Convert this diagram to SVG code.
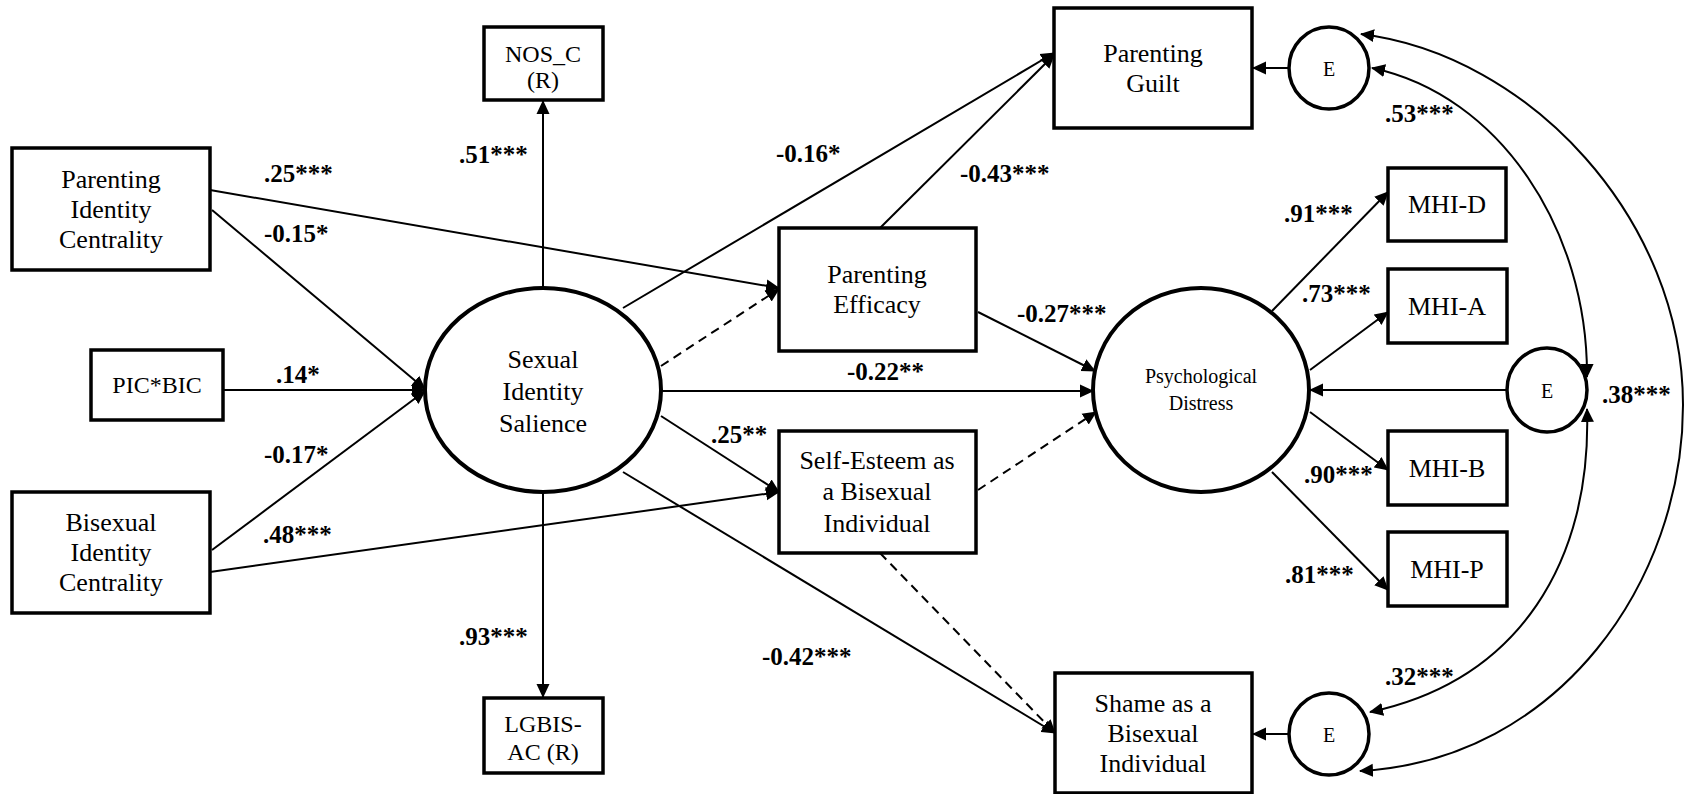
<svg xmlns="http://www.w3.org/2000/svg" width="1688" height="794" viewBox="0 0 1688 794">
<defs>
<marker id="ah" viewBox="0 0 14 14" refX="13" refY="7" markerWidth="14" markerHeight="14" markerUnits="userSpaceOnUse" orient="auto-start-reverse">
<path d="M0,0.5 L14,7 L0,13.5 z" fill="#000"/>
</marker>
<style>
.box{fill:#fff;stroke:#000;stroke-width:3.5}
.lat{fill:#fff;stroke:#000;stroke-width:4}
.err{fill:#fff;stroke:#000;stroke-width:3.5}
.t{font-family:"Liberation Serif","Times New Roman",serif;font-size:26px;text-anchor:middle;fill:#000}
.tm{font-family:"Liberation Serif","Times New Roman",serif;font-size:24px;text-anchor:middle;fill:#000}
.ts{font-family:"Liberation Serif","Times New Roman",serif;font-size:20px;text-anchor:middle;fill:#000}
.lb{font-family:"Liberation Serif","Times New Roman",serif;font-size:25px;font-weight:bold;fill:#000}
.c{fill:none;stroke:#000;stroke-width:2;marker-end:url(#ah)}
.d{fill:none;stroke:#000;stroke-width:2;stroke-dasharray:9,6;marker-end:url(#ah)}
.cc{fill:none;stroke:#000;stroke-width:2;marker-start:url(#ah);marker-end:url(#ah)}
</style>
</defs>
<rect width="1688" height="794" fill="#fff"/>
<g id="connectors">
<line class="c" x1="212" y1="210" x2="425" y2="389"/>
<line class="c" x1="223" y1="390" x2="425" y2="390"/>
<line class="c" x1="212" y1="550" x2="425" y2="391"/>
<line class="c" x1="210" y1="190" x2="779" y2="288"/>
<line class="c" x1="210" y1="572" x2="779" y2="492"/>
<line class="c" x1="543" y1="288" x2="543" y2="101"/>
<line class="c" x1="543" y1="493" x2="543" y2="697"/>
<line class="c" x1="623" y1="308" x2="1054" y2="53"/>
<line class="d" x1="661" y1="366" x2="779" y2="289"/>
<line class="c" x1="662" y1="391" x2="1093" y2="391"/>
<line class="c" x1="661" y1="416" x2="779" y2="492"/>
<line class="c" x1="623" y1="472" x2="1055" y2="733"/>
<line class="c" x1="880" y1="228" x2="1054" y2="55"/>
<line class="c" x1="978" y1="312" x2="1095" y2="371"/>
<line class="d" x1="978" y1="490" x2="1096" y2="412"/>
<line class="d" x1="880" y1="553" x2="1055" y2="733"/>
<line class="c" x1="1272" y1="311" x2="1388" y2="192"/>
<line class="c" x1="1310" y1="370" x2="1388" y2="312"/>
<line class="c" x1="1310" y1="412" x2="1388" y2="470"/>
<line class="c" x1="1272" y1="472" x2="1388" y2="590"/>
<line class="c" x1="1289" y1="68" x2="1253" y2="68"/>
<line class="c" x1="1507" y1="390" x2="1310" y2="390"/>
<line class="c" x1="1289" y1="734" x2="1253" y2="734"/>
<path class="cc" d="M1361,34 C1530,55 1683,220 1683,405 C1683,580 1560,760 1360,771"/>
<path class="cc" d="M1372,68 C1500,95 1588,230 1587,377"/>
<path class="cc" d="M1587,409 C1592,560 1520,680 1370,712"/>
</g>
<g id="labels">
<text class="lb" x="264" y="182">.25***</text>
<text class="lb" x="264" y="242">-0.15*</text>
<text class="lb" x="459" y="163">.51***</text>
<text class="lb" x="276" y="383">.14*</text>
<text class="lb" x="264" y="463">-0.17*</text>
<text class="lb" x="263" y="543">.48***</text>
<text class="lb" x="459" y="645">.93***</text>
<text class="lb" x="776" y="162">-0.16*</text>
<text class="lb" x="960" y="182">-0.43***</text>
<text class="lb" x="1017" y="322">-0.27***</text>
<text class="lb" x="847" y="380">-0.22**</text>
<text class="lb" x="711" y="443">.25**</text>
<text class="lb" x="762" y="665">-0.42***</text>
<text class="lb" x="1284" y="222">.91***</text>
<text class="lb" x="1302" y="302">.73***</text>
<text class="lb" x="1304" y="483">.90***</text>
<text class="lb" x="1285" y="583">.81***</text>
<text class="lb" x="1385" y="122">.53***</text>
<text class="lb" x="1602" y="403">.38***</text>
<text class="lb" x="1385" y="685">.32***</text>
</g>
<g id="parenting-identity-centrality">
<rect class="box" x="12" y="148" width="198" height="122"/>
<text class="t" x="111" y="188">Parenting</text>
<text class="t" x="111" y="218">Identity</text>
<text class="t" x="111" y="248">Centrality</text>
</g>
<g id="pic-bic">
<rect class="box" x="91" y="350" width="132" height="70"/>
<text class="tm" x="157" y="393">PIC*BIC</text>
</g>
<g id="bisexual-identity-centrality">
<rect class="box" x="12" y="492" width="198" height="121"/>
<text class="t" x="111" y="531">Bisexual</text>
<text class="t" x="111" y="561">Identity</text>
<text class="t" x="111" y="591">Centrality</text>
</g>
<g id="nos-c">
<rect class="box" x="484" y="27" width="119" height="73"/>
<text class="tm" x="543" y="62">NOS_C</text>
<text class="tm" x="543" y="88">(R)</text>
</g>
<g id="lgbis-ac">
<rect class="box" x="484" y="698" width="119" height="75"/>
<text class="tm" x="543" y="732">LGBIS-</text>
<text class="tm" x="543" y="760">AC (R)</text>
</g>
<g id="sexual-identity-salience">
<ellipse class="lat" cx="543" cy="390" rx="118" ry="102"/>
<text class="t" x="543" y="368">Sexual</text>
<text class="t" x="543" y="400">Identity</text>
<text class="t" x="543" y="432">Salience</text>
</g>
<g id="parenting-efficacy">
<rect class="box" x="779" y="228" width="197" height="123"/>
<text class="t" x="877" y="283">Parenting</text>
<text class="t" x="877" y="313">Efficacy</text>
</g>
<g id="self-esteem">
<rect class="box" x="779" y="431" width="197" height="122"/>
<text class="t" x="877" y="469">Self-Esteem as</text>
<text class="t" x="877" y="500">a Bisexual</text>
<text class="t" x="877" y="532">Individual</text>
</g>
<g id="parenting-guilt">
<rect class="box" x="1054" y="8" width="198" height="120"/>
<text class="t" x="1153" y="62">Parenting</text>
<text class="t" x="1153" y="92">Guilt</text>
</g>
<g id="shame">
<rect class="box" x="1055" y="673" width="197" height="120"/>
<text class="t" x="1153" y="712">Shame as a</text>
<text class="t" x="1153" y="742">Bisexual</text>
<text class="t" x="1153" y="772">Individual</text>
</g>
<g id="psychological-distress">
<ellipse class="lat" cx="1201" cy="390" rx="108" ry="102"/>
<text class="ts" x="1201" y="383">Psychological</text>
<text class="ts" x="1201" y="410">Distress</text>
</g>
<g id="mhi-d">
<rect class="box" x="1388" y="168" width="118" height="73"/>
<text class="t" x="1447" y="213">MHI-D</text>
</g>
<g id="mhi-a">
<rect class="box" x="1388" y="269" width="119" height="74"/>
<text class="t" x="1447" y="315">MHI-A</text>
</g>
<g id="mhi-b">
<rect class="box" x="1388" y="431" width="119" height="74"/>
<text class="t" x="1447" y="477">MHI-B</text>
</g>
<g id="mhi-p">
<rect class="box" x="1388" y="532" width="119" height="74"/>
<text class="t" x="1447" y="578">MHI-P</text>
</g>
<g id="e-guilt">
<ellipse class="err" cx="1329" cy="68" rx="40" ry="41"/>
<text class="ts" x="1329" y="76">E</text>
</g>
<g id="e-distress">
<ellipse class="err" cx="1547" cy="390" rx="40" ry="42"/>
<text class="ts" x="1547" y="398">E</text>
</g>
<g id="e-shame">
<ellipse class="err" cx="1329" cy="734" rx="40" ry="41"/>
<text class="ts" x="1329" y="742">E</text>
</g>
</svg>
